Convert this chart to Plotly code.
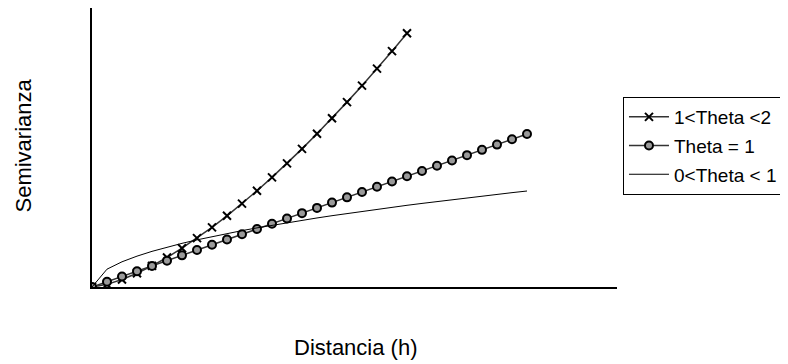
import plotly.graph_objects as go

# Distance steps (h)
h_cross = list(range(0, 22))
h_circle = list(range(0, 30))
h_line = list(range(0, 30))

# Semivariance values (arbitrary units)
semi_cross = [0, 0.5, 1.41, 2.60, 4.00, 5.59, 7.35, 9.26, 11.31, 13.50, 15.81,
              18.24, 20.78, 23.44, 26.19, 29.05, 32.00, 35.05, 38.18, 41.41,
              44.72, 48.12]
semi_circle = [0, 1, 2, 3, 4, 5, 6, 7, 8, 9, 10, 11, 12, 13, 14, 15, 16, 17,
               18, 19, 20, 21, 22, 23, 24, 25, 26, 27, 28, 29]
semi_line = [0, 3.38, 4.78, 5.85, 6.76, 7.56, 8.28, 8.94, 9.56, 10.14, 10.69,
             11.21, 11.71, 12.19, 12.65, 13.09, 13.52, 13.94, 14.34, 14.73,
             15.12, 15.49, 15.85, 16.21, 16.56, 16.90, 17.23, 17.56, 17.89,
             18.20]

names = ["1<Theta <2", "Theta = 1", "0<Theta < 1"]

fig = go.Figure()
fig.add_trace(go.Scatter(
    x=h_cross, y=semi_cross, name=names[0], mode="lines+markers",
    line=dict(color="#333333", width=1.5),
    marker=dict(symbol="x-thin", size=8, color="black",
                line=dict(color="black", width=2)),
    legendgroup="a"))
fig.add_trace(go.Scatter(
    x=h_circle, y=semi_circle, name=names[1], mode="lines+markers",
    line=dict(color="#333333", width=1.5),
    marker=dict(symbol="circle", size=8, color="#9a9a9a",
                line=dict(color="black", width=2)),
    legendgroup="b"))
fig.add_trace(go.Scatter(
    x=h_line, y=semi_line, name=names[2], mode="lines",
    line=dict(color="black", width=1),
    legendgroup="c"))

# page has an 8px body margin: figure is 780x356 placed at (8,8)
fig.update_layout(
    width=780, height=356,
    margin=dict(l=84, r=171, t=0, b=77),
    paper_bgcolor="white", plot_bgcolor="white",
    font=dict(family="Liberation Sans, Arial, sans-serif", color="black"),
    showlegend=True,
    legend=dict(x=1.0114, y=0.681, xanchor="left", yanchor="top",
                bordercolor="black", borderwidth=1,
                font=dict(size=19, family="Liberation Sans, Arial, sans-serif"),
                tracegroupgap=1, itemwidth=40),
    xaxis=dict(range=[0, 35], showgrid=False, zeroline=False,
               showticklabels=False, ticks="", showline=True,
               linecolor="black", linewidth=2),
    yaxis=dict(range=[0, 52.9], showgrid=False, zeroline=False,
               showticklabels=False, ticks="", showline=True,
               linecolor="black", linewidth=1.5),
    annotations=[
        dict(text="Semivarianza", textangle=-90, xref="paper", yref="paper",
             x=(22.5 - 92) / 525, y=(287 - 146) / 279,
             xanchor="center", yanchor="middle", showarrow=False,
             font=dict(size=22)),
        dict(text="Distancia (h)", xref="paper", yref="paper",
             x=(355 - 92) / 525, y=(287 - 347) / 279,
             xanchor="center", yanchor="middle", showarrow=False,
             font=dict(size=22)),
    ],
)

fig.write_html("out.html")
